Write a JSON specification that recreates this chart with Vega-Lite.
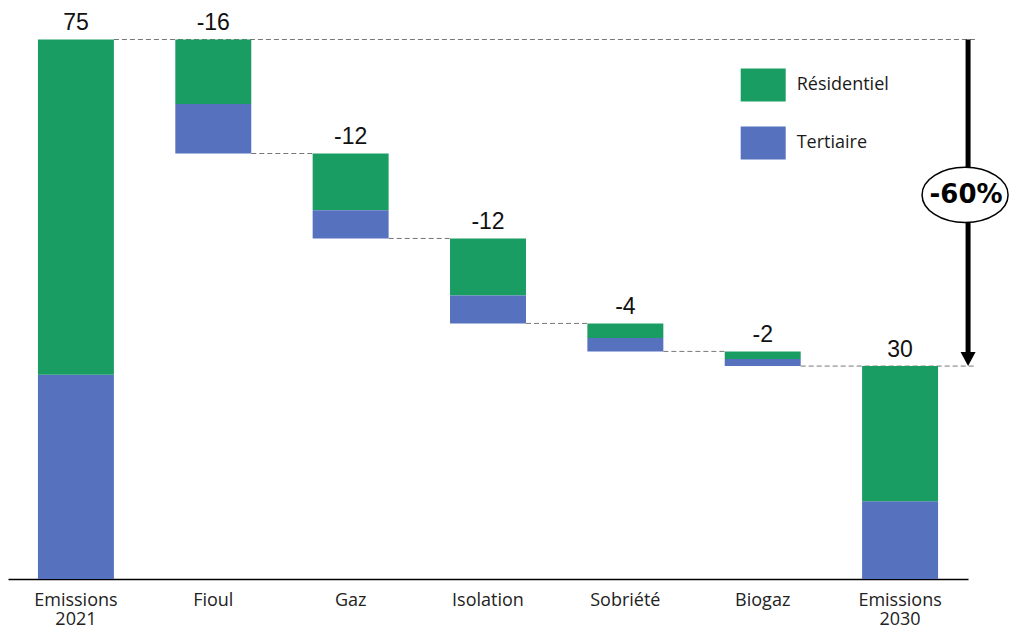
{
  "$schema": "https://vega.github.io/schema/vega-lite/v6.json",
  "width": 960,
  "height": 539.5,
  "autosize": {"type": "none"},
  "padding": {"left": 8, "top": 39.5, "right": 42, "bottom": 48},
  "background": "white",
  "config": {"view": {"stroke": null}},
  "datasets": {
    "bars": [
      {"cat": "Emissions 2021", "sector": "Tertiaire", "low": 0, "high": 28.4},
      {"cat": "Emissions 2021", "sector": "Résidentiel", "low": 28.4, "high": 75},
      {"cat": "Fioul", "sector": "Résidentiel", "low": 66.03, "high": 75},
      {"cat": "Fioul", "sector": "Tertiaire", "low": 59.15, "high": 66.03},
      {"cat": "Gaz", "sector": "Résidentiel", "low": 51.27, "high": 59.15},
      {"cat": "Gaz", "sector": "Tertiaire", "low": 47.34, "high": 51.27},
      {"cat": "Isolation", "sector": "Résidentiel", "low": 39.42, "high": 47.34},
      {"cat": "Isolation", "sector": "Tertiaire", "low": 35.53, "high": 39.42},
      {"cat": "Sobriété", "sector": "Résidentiel", "low": 33.49, "high": 35.53},
      {"cat": "Sobriété", "sector": "Tertiaire", "low": 31.64, "high": 33.49},
      {"cat": "Biogaz", "sector": "Résidentiel", "low": 30.6, "high": 31.64},
      {"cat": "Biogaz", "sector": "Tertiaire", "low": 29.6, "high": 30.6},
      {"cat": "Emissions 2030", "sector": "Tertiaire", "low": 0, "high": 10.8},
      {"cat": "Emissions 2030", "sector": "Résidentiel", "low": 10.8, "high": 29.6}
    ],
    "totals": [
      {"cat": "Emissions 2021", "top": 75, "label": "75"},
      {"cat": "Fioul", "top": 75, "label": "-16"},
      {"cat": "Gaz", "top": 59.15, "label": "-12"},
      {"cat": "Isolation", "top": 47.34, "label": "-12"},
      {"cat": "Sobriété", "top": 35.53, "label": "-4"},
      {"cat": "Biogaz", "top": 31.64, "label": "-2"},
      {"cat": "Emissions 2030", "top": 29.6, "label": "30"}
    ],
    "connectors": [
      {"from": "Fioul", "to": "Gaz", "level": 59.15},
      {"from": "Gaz", "to": "Isolation", "level": 47.34},
      {"from": "Isolation", "to": "Sobriété", "level": 35.53},
      {"from": "Sobriété", "to": "Biogaz", "level": 31.64}
    ],
    "longlines": [
      {"from": "Emissions 2021", "to": "Emissions 2030", "level": 75},
      {"from": "Biogaz", "to": "Emissions 2030", "level": 29.6}
    ],
    "change": [
      {"cat": "Emissions 2030", "top": 75, "bottom": 29.6, "mid": 53.4, "label": "-60%"}
    ]
  },
  "layer": [
    {
      "data": {"name": "longlines"},
      "mark": {"type": "rule", "strokeDash": [5, 3], "color": "#777777", "strokeWidth": 1, "xOffset": 38, "x2Offset": 75},
      "encoding": {
        "x": {"field": "from", "type": "nominal", "title": null, "scale": {"type": "band", "domain": ["Emissions 2021", "Fioul", "Gaz", "Isolation", "Sobriété", "Biogaz", "Emissions 2030"], "paddingInner": 0.447, "paddingOuter": 0.218}},
        "x2": {"field": "to"},
        "y": {"field": "level", "type": "quantitative", "axis": null, "scale": {"domain": [0, 75], "nice": false, "zero": true}}
      }
    },
    {
      "data": {"name": "connectors"},
      "mark": {"type": "rule", "strokeDash": [5, 3], "color": "#777777", "strokeWidth": 1, "xOffset": 38, "x2Offset": -38},
      "encoding": {
        "x": {"field": "from", "type": "nominal", "title": null},
        "x2": {"field": "to"},
        "y": {"field": "level", "type": "quantitative", "axis": null}
      }
    },
    {
      "data": {"name": "bars"},
      "mark": {"type": "bar", "width": {"band": 1}},
      "encoding": {
        "x": {"field": "cat", "type": "nominal", "title": null, "sort": null,
          "axis": {"domainColor": "#000000", "domainWidth": 1.5, "ticks": false, "labelAngle": 0, "labelAlign": "center", "labelBaseline": "top", "labelFont": "Open Sans", "labelFontSize": 18, "labelColor": "#222222", "labelPadding": 12, "labelLineHeight": 19.5, "labelExpr": "split(datum.label, ' ')", "grid": false}},
        "y": {"field": "low", "type": "quantitative", "axis": null},
        "y2": {"field": "high"},
        "color": {"field": "sector", "type": "nominal",
          "scale": {"domain": ["Résidentiel", "Tertiaire"], "range": ["#1A9D62", "#5671BE"]},
          "legend": {"title": null, "orient": "none", "legendX": 732.7, "legendY": 23, "padding": 0, "symbolType": "M-1,-0.733H1V0.733H-1Z", "symbolSize": 2025, "symbolStrokeWidth": 0, "symbolOpacity": 1, "labelFont": "Open Sans", "labelFontSize": 18, "labelColor": "#1a1a1a", "labelOffset": 11, "rowPadding": 19}}
      }
    },
    {
      "data": {"name": "totals"},
      "mark": {"type": "text", "font": "Liberation Sans", "fontSize": 23, "baseline": "alphabetic", "dy": -9.5, "color": "#111111"},
      "encoding": {
        "x": {"field": "cat", "type": "nominal", "title": null},
        "y": {"field": "top", "type": "quantitative", "axis": null},
        "text": {"field": "label"}
      }
    },
    {
      "data": {"name": "change"},
      "mark": {"type": "rule", "color": "#000000", "strokeWidth": 5, "xOffset": 68, "x2Offset": 68, "y2Offset": -12},
      "encoding": {
        "x": {"field": "cat", "type": "nominal", "title": null},
        "y": {"field": "top", "type": "quantitative", "axis": null},
        "y2": {"field": "bottom"}
      }
    },
    {
      "data": {"name": "change"},
      "mark": {"type": "point", "shape": "M-1,-1.87L1,-1.87L0,0Z", "size": 225, "filled": true, "color": "#000000", "opacity": 1, "xOffset": 68},
      "encoding": {
        "x": {"field": "cat", "type": "nominal", "title": null},
        "y": {"field": "bottom", "type": "quantitative", "axis": null}
      }
    },
    {
      "data": {"name": "change"},
      "mark": {"type": "point", "shape": "M-1,0A1,0.64 0 1,1 1,0A1,0.64 0 1,1 -1,0Z", "size": 7396, "filled": true, "fill": "#ffffff", "stroke": "#000000", "strokeWidth": 1.5, "opacity": 1, "xOffset": 65},
      "encoding": {
        "x": {"field": "cat", "type": "nominal", "title": null},
        "y": {"field": "mid", "type": "quantitative", "axis": null}
      }
    },
    {
      "data": {"name": "change"},
      "mark": {"type": "text", "font": "DejaVu Sans", "fontWeight": "bold", "fontSize": 26, "baseline": "middle", "align": "center", "xOffset": 66, "color": "#000000"},
      "encoding": {
        "x": {"field": "cat", "type": "nominal", "title": null},
        "y": {"field": "mid", "type": "quantitative", "axis": null},
        "text": {"field": "label"}
      }
    }
  ]
}
